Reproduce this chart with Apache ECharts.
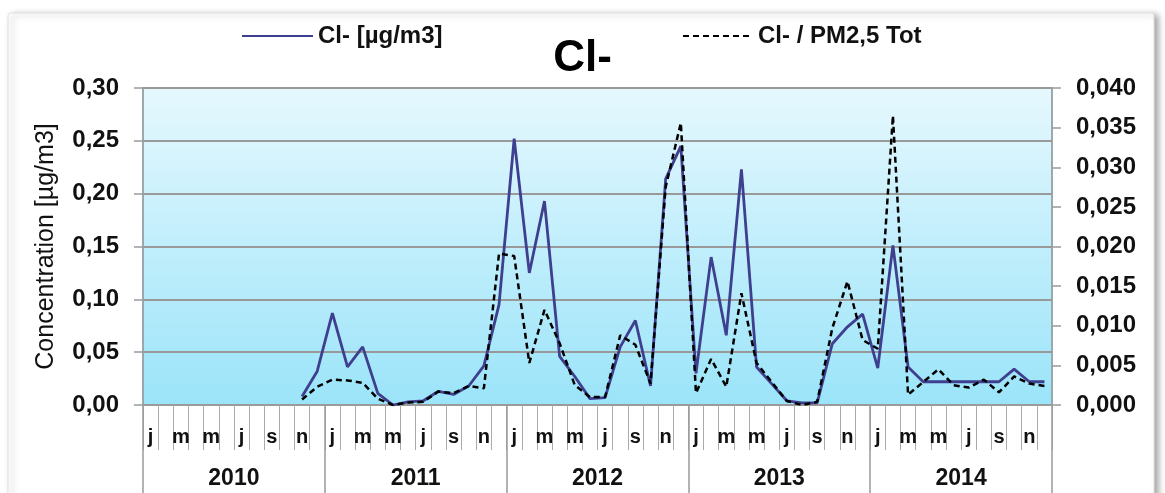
<!DOCTYPE html>
<html>
<head>
<meta charset="utf-8">
<script src="https://cdn.jsdelivr.net/npm/echarts@6/dist/echarts.min.js"></script>
<style>
html,body{margin:0;padding:0;background:#fff;}
#c{width:1165px;height:493px;}
</style>
</head>
<body>
<div id="c"></div>
<script>
// ---- data ----
var years = ['2010', '2011', '2012', '2013', '2014'];
var monthLetters = ['j','f','m','a','m','j','j','a','s','o','n','d'];
var months = [];
years.forEach(function (y) { for (var m = 1; m <= 12; m++) months.push(y + '-' + (m < 10 ? '0' + m : m)); });

var clConc = [
  null, null, null, null, null, null, null, null, null, null, 0.008, 0.032,
  0.087, 0.036, 0.055, 0.011, 0.000, 0.003, 0.004, 0.013, 0.010, 0.018, 0.037, 0.095,
  0.252, 0.125, 0.193, 0.046, 0.027, 0.006, 0.007, 0.055, 0.080, 0.018, 0.214, 0.245,
  0.030, 0.140, 0.066, 0.223, 0.036, 0.020, 0.004, 0.002, 0.002, 0.058, 0.074, 0.086,
  0.035, 0.151, 0.036, 0.022, 0.022, 0.022, 0.022, 0.022, 0.022, 0.034, 0.022, 0.022
];
var clRatio = [
  null, null, null, null, null, null, null, null, null, null, 0.0007, 0.0023,
  0.0032, 0.0031, 0.0028, 0.0008, 0.0000, 0.0003, 0.0004, 0.0017, 0.0015, 0.0024, 0.0021, 0.0191,
  0.0188, 0.0053, 0.0120, 0.0078, 0.0025, 0.0010, 0.0010, 0.0088, 0.0076, 0.0027, 0.0275, 0.0356,
  0.0015, 0.0058, 0.0023, 0.0141, 0.0053, 0.0029, 0.0005, 0.0000, 0.0004, 0.0097, 0.0156, 0.0082,
  0.0071, 0.0365, 0.0013, 0.0029, 0.0045, 0.0025, 0.0022, 0.0032, 0.0016, 0.0036, 0.0027, 0.0024
];
var seriesNames = ['Cl- [µg/m3]', 'Cl- / PM2,5 Tot'];
var chartTitle = 'Cl-';
var yTitle = 'Concentration [µg/m3]';

// ---- chart ----
var FONT = '"Liberation Sans", Arial, sans-serif';
var chart = echarts.init(document.getElementById('c'), null, {renderer: 'canvas'});
var gray = '#9a9a9a';
var option = {
  backgroundColor: '#fff',
  animation: false,
  textStyle: {fontFamily: FONT},
  graphic: [{
    type: 'rect', z: -100, silent: true,
    shape: {x: 8, y: 13, width: 1146, height: 520, r: 3},
    style: {fill: '#fff', stroke: '#e2e2e2', lineWidth: 1,
            shadowBlur: 6, shadowOffsetX: 4, shadowOffsetY: 2, shadowColor: 'rgba(0,0,0,0.35)'}
  }],
  title: {
    text: chartTitle, left: 'center', top: 32,
    textStyle: {fontSize: 44, fontWeight: 'bold', color: '#000', fontFamily: FONT}
  },
  legend: [{
    data: [seriesNames[0]], left: 236, top: 19, itemWidth: 71, itemHeight: 14, itemGap: 6,
    itemStyle: {opacity: 0},
    textStyle: {fontSize: 24, fontWeight: 'bold', color: '#111', fontFamily: FONT}
  }, {
    data: [seriesNames[1]], left: 677, top: 19, itemWidth: 70, itemHeight: 14, itemGap: 6,
    itemStyle: {opacity: 0},
    textStyle: {fontSize: 24, fontWeight: 'bold', color: '#111', fontFamily: FONT}
  }],
  grid: {
    left: 143, right: 113, top: 88, bottom: 88,
    show: true,
    borderColor: '#86cbd9', borderWidth: 1.5,
    backgroundColor: new echarts.graphic.LinearGradient(0, 0, 0, 1, [
      {offset: 0, color: '#e6f8fe'},
      {offset: 1, color: '#9be4f9'}
    ])
  },
  xAxis: [{
    type: 'category', data: months, boundaryGap: true, position: 'bottom',
    axisLine: {show: true, lineStyle: {color: gray, width: 1.5}},
    axisTick: {show: true, interval: 0, length: 45, lineStyle: {color: '#aaa', width: 1}},
    axisLabel: {
      interval: 1, margin: 22, fontSize: 20, fontWeight: 'bold', color: '#111', fontFamily: FONT,
      formatter: function (v) { return monthLetters[parseInt(v.slice(5), 10) - 1]; }
    },
    splitLine: {show: false}
  }, {
    type: 'category', data: years, boundaryGap: true, position: 'bottom',
    axisLine: {show: false},
    axisTick: {show: true, interval: 0, length: 90, lineStyle: {color: gray, width: 1.5}},
    axisLabel: {interval: 0, margin: 62, fontSize: 23, fontWeight: 'bold', color: '#111', fontFamily: FONT},
    splitLine: {show: false}
  }],
  yAxis: [{
    type: 'value', min: 0, max: 0.30, interval: 0.05, position: 'left',
    name: yTitle, nameLocation: 'middle', nameGap: 84, nameRotate: 90,
    nameTextStyle: {fontSize: 25, color: '#111', fontFamily: FONT},
    axisLine: {show: true, lineStyle: {color: gray, width: 1.5}},
    axisTick: {show: true, length: 9, lineStyle: {color: gray, width: 1.5}},
    axisLabel: {margin: 24, fontSize: 24, fontWeight: 'bold', color: '#111', fontFamily: FONT,
      formatter: function (v) { return v.toFixed(2).replace('.', ','); }},
    splitLine: {show: true, lineStyle: {color: '#999', width: 2}}
  }, {
    type: 'value', min: 0, max: 0.04, interval: 0.005, position: 'right',
    axisLine: {show: true, lineStyle: {color: gray, width: 1.5}},
    axisTick: {show: true, length: 9, lineStyle: {color: gray, width: 1.5}},
    axisLabel: {margin: 24, fontSize: 24, fontWeight: 'bold', color: '#111', fontFamily: FONT,
      formatter: function (v) { return v.toFixed(3).replace('.', ','); }},
    splitLine: {show: false}
  }],
  series: [{
    name: seriesNames[0], type: 'line', xAxisIndex: 0, yAxisIndex: 0,
    data: clConc, symbol: 'none', z: 3,
    lineStyle: {color: '#3f3f8f', width: 2.8},
    itemStyle: {color: '#3f3f8f'}
  }, {
    name: seriesNames[1], type: 'line', xAxisIndex: 0, yAxisIndex: 1,
    data: clRatio, symbol: 'none', z: 4,
    lineStyle: {color: '#000', width: 2.5, type: [6, 4]},
    itemStyle: {color: '#000'}
  }]
};
chart.setOption(option);
</script>
</body>
</html>
